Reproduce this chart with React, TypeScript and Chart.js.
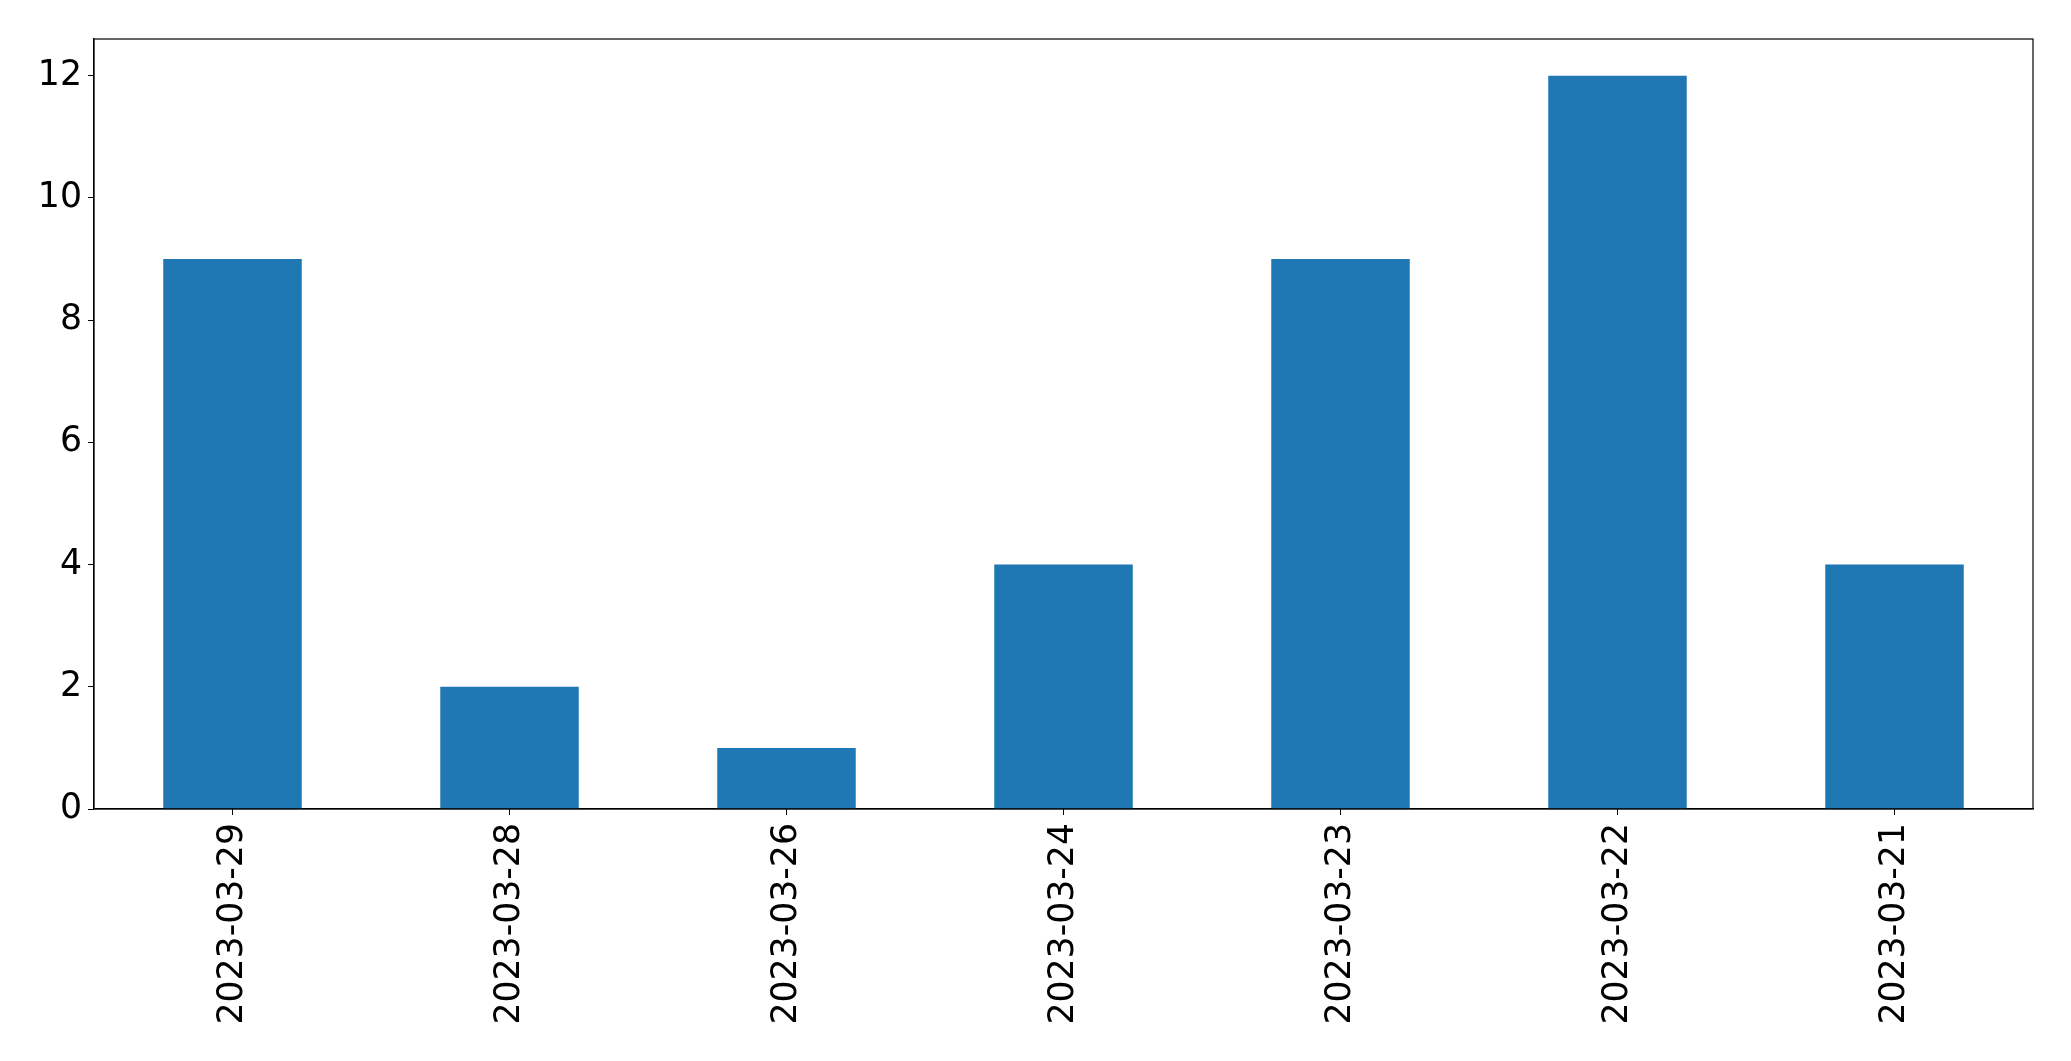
import React, { useEffect, useRef } from "react";
import { Chart, registerables } from "chart.js";

Chart.register(...registerables);

const categories = [
  "2023-03-29",
  "2023-03-28",
  "2023-03-26",
  "2023-03-24",
  "2023-03-23",
  "2023-03-22",
  "2023-03-21",
];
const counts = [9, 2, 1, 4, 9, 12, 4];
const yMax = 12.6;
const yStep = 2;

const W = 2071;
const H = 1061;

const framePlugin = {
  id: "frame",
  afterDraw(chart: any) {
    const { ctx, chartArea } = chart;
    ctx.save();
    ctx.strokeStyle = "#000";
    ctx.lineWidth = 1.2;
    ctx.strokeRect(chartArea.left, chartArea.top, chartArea.right - chartArea.left, chartArea.bottom - chartArea.top);
    ctx.restore();
  },
};

export default function App() {
  const ref = useRef<HTMLCanvasElement | null>(null);
  useEffect(() => {
    if (!ref.current) return;
    const font = { family: "'DejaVu Sans', sans-serif", size: 34.7 };
    const chart = new Chart(ref.current, {
      type: "bar",
      data: {
        labels: categories,
        datasets: [
          {
            data: counts,
            backgroundColor: "#1f77b4",
            borderWidth: 0,
            categoryPercentage: 1,
            barPercentage: 0.5,
          },
        ],
      },
      options: {
        responsive: false,
        animation: false,
        events: [],
        layout: { padding: { left: 0, top: 39, right: 38, bottom: 0 } },
        plugins: { legend: { display: false }, tooltip: { enabled: false } },
        scales: {
          x: {
            offset: true,
            grid: { display: true, drawOnChartArea: false, drawTicks: true, tickLength: 6, color: "#000", offset: false },
            border: { display: true, color: "#000", width: 1.2 },
            ticks: { color: "#000", font, minRotation: 90, maxRotation: 90, padding: 8, autoSkip: false },
            afterFit: (s: any) => { s.height = H - 809; },
          },
          y: {
            min: 0,
            max: yMax,
            grid: { display: true, drawOnChartArea: false, drawTicks: true, tickLength: 6, color: "#000" },
            border: { display: true, color: "#000", width: 1.2 },
            ticks: { color: "#000", font, stepSize: yStep, includeBounds: false, padding: 6 },
            afterFit: (s: any) => { s.width = 94; },
          },
        },
      },
      plugins: [framePlugin],
    });
    return () => chart.destroy();
  }, []);
  return (
    <div style={{ position: "fixed", left: 0, top: 0, width: W, height: H, background: "#fff" }}>
      <canvas ref={ref} width={W} height={H} style={{ display: "block", width: W, height: H }} />
    </div>
  );
}
